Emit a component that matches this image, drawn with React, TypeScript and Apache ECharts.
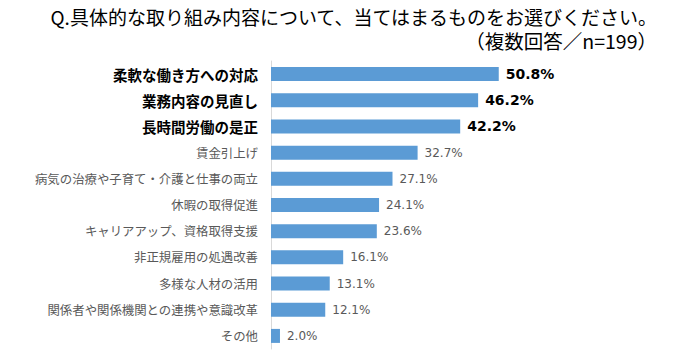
import React, { useEffect, useRef } from "react";
import * as echarts from "echarts";

const titleLine1 = "Q.具体的な取り組み内容について、当てはまるものをお選びください。";
const titleLine2 = "（複数回答／n=199）";

const categories = [
  "柔軟な働き方への対応",
  "業務内容の見直し",
  "長時間労働の是正",
  "賃金引上げ",
  "病気の治療や子育て・介護と仕事の両立",
  "休暇の取得促進",
  "キャリアアップ、資格取得支援",
  "非正規雇用の処遇改善",
  "多様な人材の活用",
  "関係者や関係機関との連携や意識改革",
  "その他",
];

const values = [50.8, 46.2, 42.2, 32.7, 27.1, 24.1, 23.6, 16.1, 13.1, 12.1, 2.0];

const highlighted = [true, true, true, false, false, false, false, false, false, false, false];

const JP = '"Noto Sans CJK JP", "Noto Sans", sans-serif';

export default function App() {
  const ref = useRef<HTMLDivElement>(null);
  useEffect(() => {
    document.body.style.margin = "0";
    if (!ref.current) return;
    const chart = echarts.init(ref.current, null, { renderer: "svg" });
    chart.setOption({
      animation: false,
      backgroundColor: "#ffffff",
      graphic: [
        {
          type: "text",
          x: 657,
          y: 6,
          style: {
            text: `{a|${titleLine1}}\n{b|${titleLine2}}`,
            align: "right",
            verticalAlign: "top",
            fontFamily: JP,
            fill: "#000000",
            rich: {
              a: { fontFamily: JP, fontSize: 19, lineHeight: 21, fill: "#000000" },
              b: { fontFamily: JP, fontSize: 19.5, lineHeight: 27, fill: "#000000" },
            },
          },
        },
      ],
      grid: { left: 271, right: 140, top: 61, bottom: 11, containLabel: false },
      xAxis: {
        type: "value",
        min: 0,
        max: 60,
        show: false,
      },
      yAxis: {
        type: "category",
        data: categories,
        inverse: true,
        axisLine: { show: true, lineStyle: { color: "#D9D9D9", width: 1 } },
        axisTick: { show: false },
        axisLabel: {
          margin: 13,
          formatter: (v: string) => {
            const i = categories.indexOf(v);
            return highlighted[i] ? `{b|${v}}` : `{n|${v}}`;
          },
          rich: {
            b: { fontFamily: JP, fontSize: 14.5, fontWeight: "bold", color: "#000000" },
            n: { fontFamily: JP, fontSize: 12.4, color: "#595959" },
          },
        },
      },
      series: [
        {
          type: "bar",
          barWidth: 14,
          itemStyle: { color: "#5B9BD5" },
          data: values.map((v, i) => ({
            value: v,
            label: highlighted[i]
              ? { fontSize: 14, fontWeight: "bold", color: "#000000" }
              : { fontSize: 12, fontWeight: "normal", color: "#595959" },
          })),
          label: {
            show: true,
            position: "right",
            distance: 7,
            fontFamily: '"DejaVu Sans", sans-serif',
            formatter: (p: any) => `${Number(p.value).toFixed(1)}%`,
          },
        },
      ],
    });
    return () => chart.dispose();
  }, []);
  return <div ref={ref} style={{ width: 680, height: 360 }} />;
}
